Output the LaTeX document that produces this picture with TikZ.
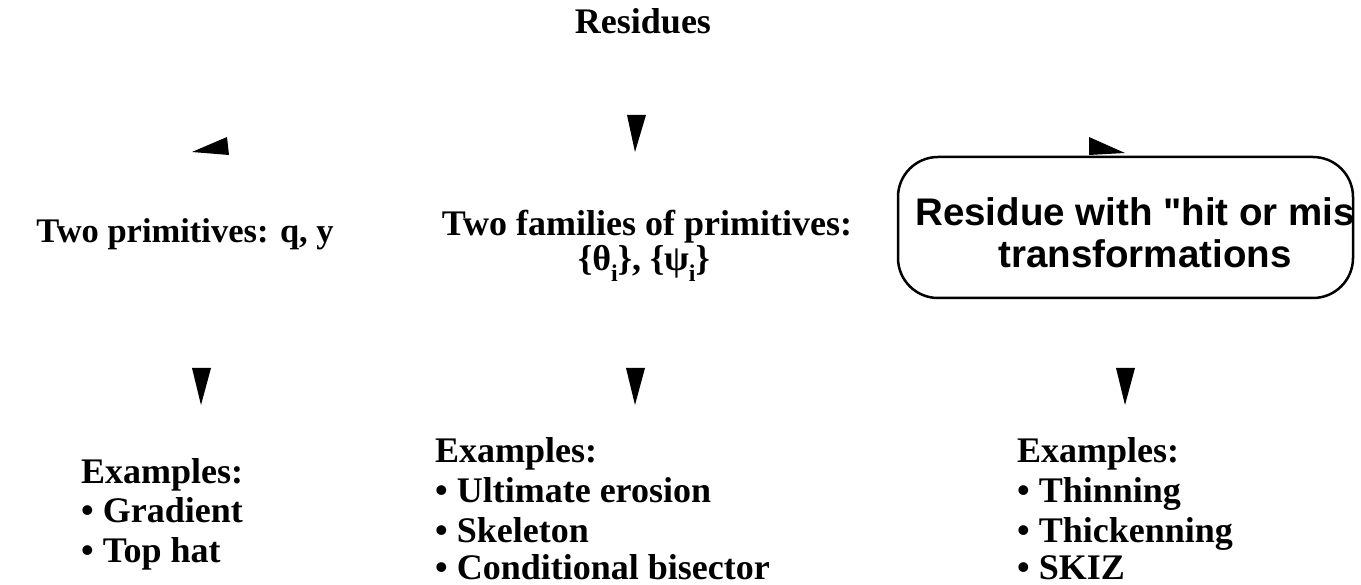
\documentclass[tikz,border=0pt]{standalone}
\usepackage{fontspec}
\setmainfont{Liberation Serif}
\newfontfamily\boxfont{Liberation Sans}
\begin{document}
\begin{tikzpicture}[x=1pt,y=-1pt,
  lbl/.style={inner sep=0pt,font=\bfseries\fontsize{36}{40}\selectfont},
  boxlbl/.style={inner sep=0pt,font=\boxfont\bfseries\fontsize{38.5}{44}\selectfont},
  head/.style={fill=black},
  frame/.style={draw=black,line width=2.5pt,rounded corners=40pt}]
\useasboundingbox (0,0) rectangle (1361,585);

% title
\node[lbl,anchor=base] (title) at (643,34) {Residues};

% arrowheads hanging from the title
\coordinate (hl) at (192,152);
\coordinate (hm) at (635,152);
\coordinate (hr) at (1125,153);
\fill[head] (hl) -- (227,137) -- (229,155) -- cycle;
\fill[head] (hm) -- (627,115) -- (646,115) -- cycle;
\fill[head] (hr) -- (1089,137) -- (1089,155) -- cycle;

% middle row
\node[lbl,anchor=base,font=\bfseries\fontsize{34.5}{40}\selectfont] (left) at (185,243) {Two primitives: q, y};
\node[lbl,anchor=base] (mid1) at (647,236) {Two families of primitives:};
\node[lbl,anchor=base] (mid2) at (644,271)
  {\{θ\raisebox{-0.28em}{\fontsize{24}{24}\selectfont i}\}, \{ψ\raisebox{-0.28em}{\fontsize{24}{24}\selectfont i}\}};

\draw[frame] (898,157) rectangle (1353,298);
\node[boxlbl,anchor=base west] (box1) at (915,226) {Residue with "hit or mis};
\node[boxlbl,anchor=base] (box2) at (1145,268) {transformations};

% arrowheads to the example lists
\coordinate (bl) at (201,405);
\coordinate (bm) at (635,405);
\coordinate (br) at (1125,405);
\fill[head] (bl) -- (192,368) -- (211,368) -- cycle;
\fill[head] (bm) -- (626,368) -- (645,368) -- cycle;
\fill[head] (br) -- (1116,368) -- (1135,368) -- cycle;

% example lists
\node[lbl,anchor=base west] (l0) at (81,483) {Examples:};
\node[lbl,anchor=base west] (l1) at (81,522) {• Gradient};
\node[lbl,anchor=base west] (l2) at (81,562) {• Top hat};

\node[lbl,anchor=base west] (m0) at (435,462) {Examples:};
\node[lbl,anchor=base west] (m1) at (435,502) {• Ultimate erosion};
\node[lbl,anchor=base west] (m2) at (435,542) {• Skeleton};
\node[lbl,anchor=base west] (m3) at (435,579) {• Conditional bisector};

\node[lbl,anchor=base west] (r0) at (1017,462) {Examples:};
\node[lbl,anchor=base west] (r1) at (1017,502) {• Thinning};
\node[lbl,anchor=base west] (r2) at (1017,542) {• Thickenning};
\node[lbl,anchor=base west] (r3) at (1017,579) {• SKIZ};
\end{tikzpicture}
\end{document}
